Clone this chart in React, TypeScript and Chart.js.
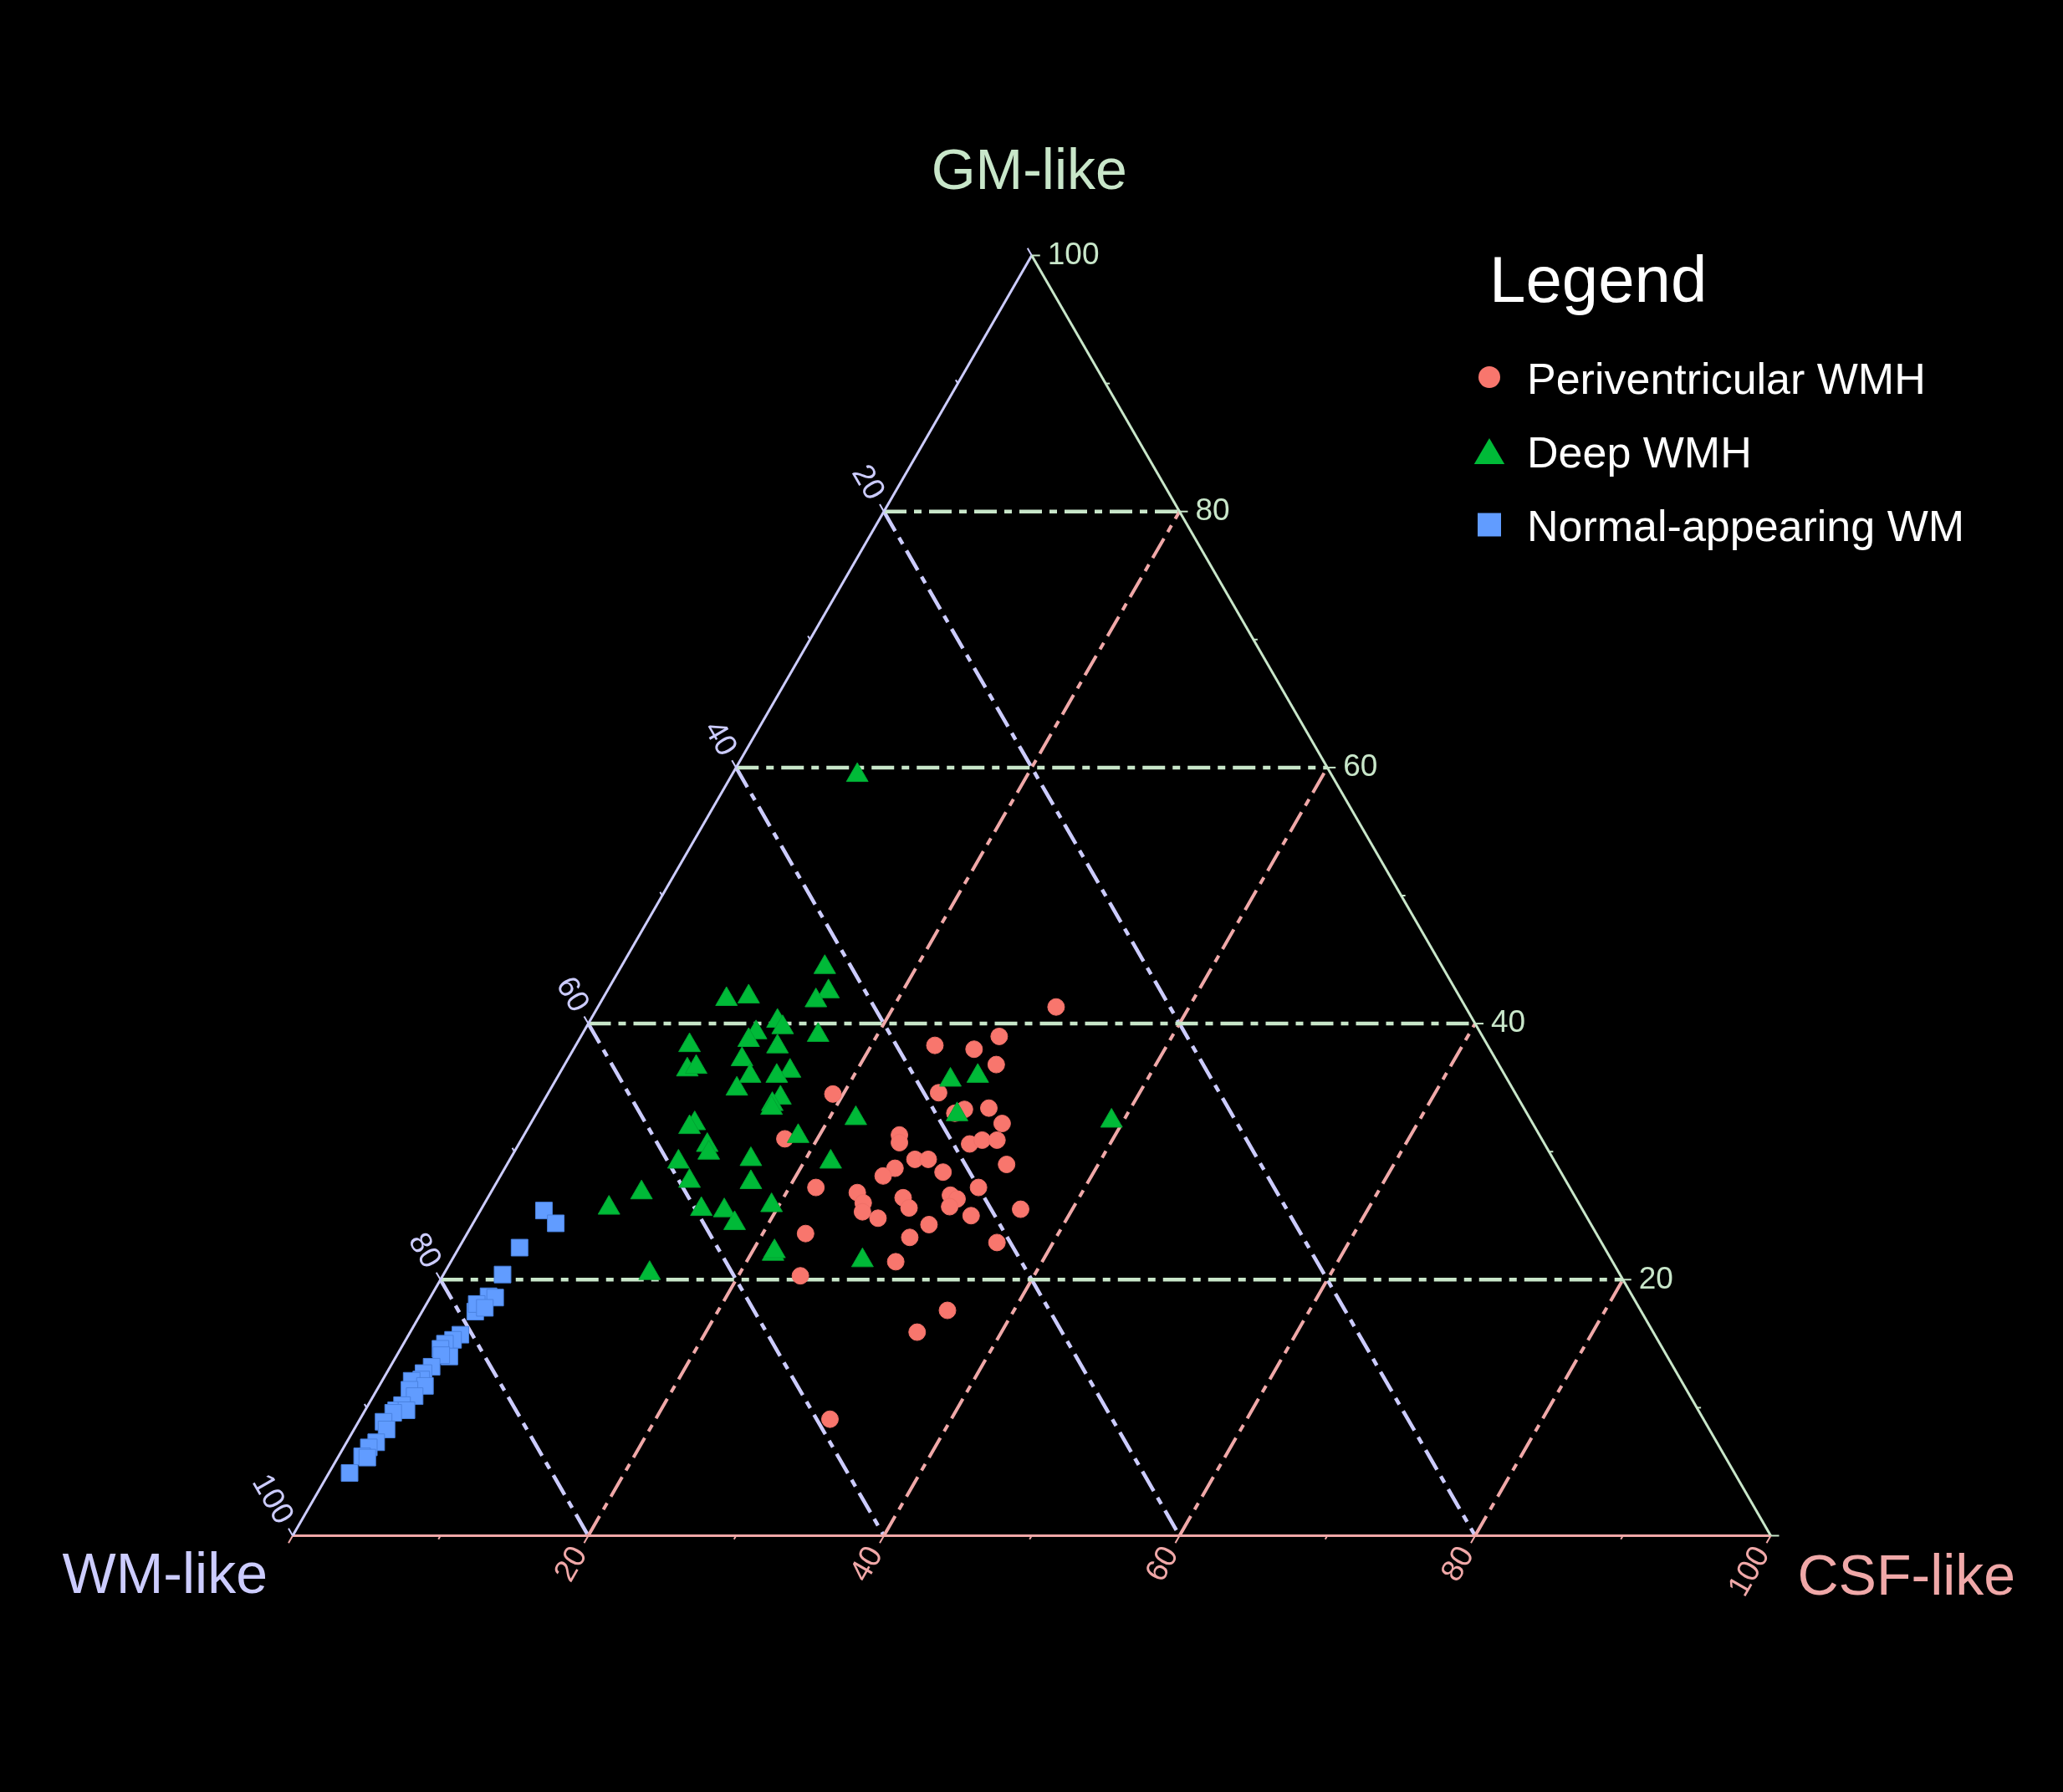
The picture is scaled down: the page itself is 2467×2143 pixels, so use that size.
import React, { useEffect, useRef } from 'react';
import { Chart, registerables } from 'chart.js';

Chart.register(...registerables);

const CANVAS_W = 2467;
const CANVAS_H = 2143;
const H3 = Math.sqrt(3) / 2;

const COLOR_GM = '#C8E6C9';
const COLOR_WM = '#CCCCFF';
const COLOR_CSF = '#F0A8A8';
const FONT = '"Liberation Sans", Arial, Helvetica, sans-serif';

const axisTitles = { top: 'GM-like', left: 'WM-like', right: 'CSF-like' };
const legendTitle = 'Legend';
const seriesNames = ['Periventricular WMH', 'Deep WMH', 'Normal-appearing WM'];
const seriesColors = ['#F8766D', '#00BA38', '#619CFF'];

const gridTicks = [20, 40, 60, 80];
const labelTicks = [20, 40, 60, 80, 100];
const allTicks = [0, 10, 20, 30, 40, 50, 60, 70, 80, 90, 100];

// Periventricular WMH (percent composition)
const pvGM = [41.3, 39.0, 38.3, 38.0, 36.8, 34.5, 34.6, 33.3, 33.0, 33.4, 32.2, 31.0, 31.3, 30.7, 30.6, 30.9, 30.9, 29.4, 29.4, 28.7, 28.1, 28.4, 29.0, 27.2, 26.8, 27.2, 26.4, 26.6, 26.3, 26.0, 25.6, 25.7, 25.5, 25.3, 24.8, 25.0, 24.3, 23.6, 23.3, 22.9, 21.4, 20.3, 17.6, 15.9, 9.1];
const pvCSF = [31.0, 28.3, 24.3, 27.1, 29.2, 19.3, 26.4, 28.8, 28.3, 30.4, 31.9, 17.8, 25.4, 25.7, 30.5, 31.2, 32.2, 27.4, 28.3, 26.4, 25.9, 29.8, 33.8, 21.8, 24.8, 32.8, 28.1, 31.2, 31.8, 25.6, 28.9, 31.6, 36.5, 25.9, 27.2, 33.4, 30.9, 22.9, 30.1, 36.2, 30.1, 24.2, 35.5, 34.3, 31.8];
const pvWM = [27.7, 32.7, 37.4, 34.9, 34.0, 46.2, 39.0, 37.9, 38.7, 36.2, 35.9, 51.2, 43.3, 43.6, 38.9, 37.9, 36.9, 43.2, 42.3, 44.9, 46.0, 41.8, 37.2, 51.0, 48.4, 40.0, 45.5, 42.2, 41.9, 48.4, 45.5, 42.7, 38.0, 48.8, 48.0, 41.6, 44.8, 53.5, 46.6, 40.9, 48.5, 55.5, 46.9, 49.8, 59.1];

// Deep WMH
const dpGM = [59.4, 44.4, 42.5, 41.8, 41.9, 42.1, 40.2, 39.7, 39.3, 38.7, 39.1, 38.3, 38.2, 37.2, 36.4, 36.6, 36.3, 35.9, 35.9, 34.9, 35.6, 35.9, 34.2, 33.7, 33.4, 32.9, 32.6, 32.4, 32.2, 31.9, 31.2, 30.5, 29.9, 29.4, 29.2, 29.2, 27.7, 27.6, 26.8, 25.6, 25.5, 25.4, 24.4, 25.8, 22.0, 22.2, 21.5, 20.5];
const dpCSF = [8.5, 13.8, 15.0, 14.5, 8.4, 9.8, 12.7, 13.3, 11.7, 11.5, 16.0, 7.7, 13.7, 11.8, 8.5, 9.0, 15.5, 14.8, 13.0, 12.6, 26.7, 28.4, 15.9, 15.6, 15.7, 28.5, 21.8, 39.2, 11.1, 10.9, 18.6, 12.8, 13.2, 16.3, 11.5, 21.8, 13.0, 17.2, 10.2, 8.6, 14.9, 16.5, 17.7, 19.5, 21.5, 21.5, 27.8, 13.9];
const dpWM = [32.1, 41.8, 42.5, 43.7, 49.7, 48.1, 47.1, 47.0, 49.0, 49.8, 44.9, 54.0, 48.1, 51.0, 55.1, 54.4, 48.2, 49.3, 51.1, 52.5, 37.7, 35.7, 49.9, 50.7, 50.9, 38.6, 45.6, 28.4, 56.7, 57.2, 50.2, 56.7, 56.9, 54.3, 59.3, 49.0, 59.3, 55.2, 63.0, 65.8, 59.6, 58.1, 57.9, 54.7, 56.5, 56.3, 50.7, 65.6];

// Normal-appearing WM
const nwGM = [25.4, 24.4, 22.5, 20.4, 18.7, 18.6, 17.5, 18.1, 17.8, 15.7, 15.3, 15.0, 14.6, 14.0, 14.1, 13.2, 12.7, 12.2, 12.1, 11.7, 11.4, 10.9, 10.2, 9.8, 9.8, 9.6, 8.9, 8.3, 7.3, 6.9, 6.2, 6.1, 4.9];
const nwCSF = [4.3, 5.6, 4.1, 4.0, 3.9, 4.4, 3.6, 3.4, 4.1, 3.5, 3.2, 2.8, 2.7, 3.6, 3.0, 2.8, 2.5, 2.6, 2.0, 3.1, 2.2, 2.8, 2.3, 2.1, 2.8, 2.0, 1.7, 2.2, 2.0, 1.7, 1.6, 2.0, 1.4];
const nwWM = [70.3, 70.0, 73.4, 75.6, 77.4, 77.0, 78.9, 78.5, 78.1, 80.8, 81.5, 82.2, 82.7, 82.4, 82.9, 84.0, 84.8, 85.2, 85.9, 85.2, 86.4, 86.3, 87.5, 88.1, 87.4, 88.4, 89.4, 89.5, 90.7, 91.4, 92.2, 91.9, 93.7];

function toXY(wm: number[], gm: number[], csf: number[]) {
  return gm.map((g, i) => {
    const tot = wm[i] + g + csf[i];
    const G = (g / tot) * 100;
    const C = (csf[i] / tot) * 100;
    return { x: C + G / 2, y: G * H3 };
  });
}

function P(chart: any, gm: number, csf: number): [number, number] {
  return [chart.scales.x.getPixelForValue(csf + gm / 2), chart.scales.y.getPixelForValue(gm * H3)];
}

function line(ctx: CanvasRenderingContext2D, a: [number, number], b: [number, number]) {
  ctx.beginPath();
  ctx.moveTo(a[0], a[1]);
  ctx.lineTo(b[0], b[1]);
  ctx.stroke();
}

const ternaryPlugin = {
  id: 'ternaryFrame',
  beforeDraw(chart: any) {
    const ctx = chart.ctx;
    ctx.save();
    ctx.fillStyle = '#000000';
    ctx.fillRect(0, 0, chart.width, chart.height);
    ctx.restore();
  },
  beforeDatasetsDraw(chart: any) {
    const ctx: CanvasRenderingContext2D = chart.ctx;
    ctx.save();
    ctx.lineCap = 'butt';
    // grid lines
    ctx.lineWidth = 4.5;
    ctx.setLineDash([27, 9, 9, 9]);
    for (const v of gridTicks) {
      ctx.strokeStyle = COLOR_WM;
      line(ctx, P(chart, 100 - v, 0), P(chart, 0, 100 - v));
    }
    ctx.lineWidth = 4;
    for (const v of gridTicks) {
      ctx.strokeStyle = COLOR_CSF;
      line(ctx, P(chart, 0, v), P(chart, 100 - v, v));
    }
    ctx.lineWidth = 4.5;
    for (const v of gridTicks) {
      ctx.strokeStyle = COLOR_GM;
      line(ctx, P(chart, v, 0), P(chart, v, 100 - v));
    }
    ctx.setLineDash([]);
    // triangle edges
    ctx.lineWidth = 3;
    ctx.strokeStyle = COLOR_CSF;
    line(ctx, P(chart, 0, 0), P(chart, 0, 100));
    ctx.strokeStyle = COLOR_WM;
    line(ctx, P(chart, 0, 0), P(chart, 100, 0));
    ctx.strokeStyle = COLOR_GM;
    line(ctx, P(chart, 100, 0), P(chart, 0, 100));
    // ticks
    ctx.lineWidth = 2;
    for (const t of allTicks) {
      const len = t % 20 === 0 ? 10 : 5;
      let p = P(chart, t, 100 - t);
      ctx.strokeStyle = COLOR_GM;
      line(ctx, p, [p[0] + len, p[1]]);
      p = P(chart, 100 - t, 0);
      ctx.strokeStyle = COLOR_WM;
      line(ctx, p, [p[0] - 0.5 * len, p[1] - H3 * len]);
      p = P(chart, 0, t);
      ctx.strokeStyle = COLOR_CSF;
      line(ctx, p, [p[0] - 0.5 * len, p[1] + H3 * len]);
    }
    ctx.restore();
  },
  afterDraw(chart: any) {
    const ctx: CanvasRenderingContext2D = chart.ctx;
    ctx.save();
    // tick labels
    ctx.font = `37px ${FONT}`;
    ctx.textBaseline = 'middle';
    const off = 19;
    for (const t of labelTicks) {
      const s = String(t);
      // GM (right edge)
      let p = P(chart, t, 100 - t);
      ctx.fillStyle = COLOR_GM;
      ctx.textAlign = 'left';
      ctx.fillText(s, p[0] + off, p[1]);
      // WM (left edge)
      p = P(chart, 100 - t, 0);
      ctx.save();
      ctx.translate(p[0] - 0.5 * off, p[1] - H3 * off);
      ctx.rotate(Math.PI / 3);
      ctx.fillStyle = COLOR_WM;
      ctx.textAlign = 'right';
      ctx.fillText(s, 0, 0);
      ctx.restore();
      // CSF (bottom edge)
      p = P(chart, 0, t);
      ctx.save();
      ctx.translate(p[0] - 0.5 * off, p[1] + H3 * off);
      ctx.rotate(-Math.PI / 3);
      ctx.fillStyle = COLOR_CSF;
      ctx.textAlign = 'right';
      ctx.fillText(s, 0, 0);
      ctx.restore();
    }
    // axis titles
    ctx.font = `68px ${FONT}`;
    ctx.textBaseline = 'alphabetic';
    let p = P(chart, 100, 0);
    ctx.fillStyle = COLOR_GM;
    ctx.textAlign = 'center';
    ctx.fillText(axisTitles.top, p[0] - 3, p[1] - 79.5);
    p = P(chart, 0, 0);
    ctx.fillStyle = COLOR_WM;
    ctx.textAlign = 'right';
    ctx.fillText(axisTitles.left, p[0] - 30, p[1] + 68.5);
    p = P(chart, 0, 100);
    ctx.fillStyle = COLOR_CSF;
    ctx.textAlign = 'left';
    ctx.fillText(axisTitles.right, p[0] + 32, p[1] + 70.5);

    // legend
    ctx.fillStyle = '#FFFFFF';
    ctx.textAlign = 'left';
    ctx.font = `78px ${FONT}`;
    ctx.fillText(legendTitle, 1781, 361);
    ctx.font = `52px ${FONT}`;
    const mx = 1781;
    const rowY = [451, 539.5, 627.5];
    for (let i = 0; i < seriesNames.length; i++) {
      const cy = rowY[i];
      ctx.fillStyle = seriesColors[i];
      ctx.beginPath();
      if (i === 0) {
        ctx.arc(mx, cy, 13, 0, Math.PI * 2);
      } else if (i === 1) {
        ctx.moveTo(mx, cy - 15.5);
        ctx.lineTo(mx + 18.2, cy + 15.5);
        ctx.lineTo(mx - 18.2, cy + 15.5);
        ctx.closePath();
      } else {
        ctx.rect(mx - 14, cy - 14, 28, 28);
      }
      ctx.fill();
      ctx.fillStyle = '#FFFFFF';
      ctx.fillText(seriesNames[i], 1826, cy + 19.5);
    }
    ctx.restore();
  },
};

export default function App() {
  const ref = useRef<HTMLCanvasElement | null>(null);
  useEffect(() => {
    document.body.style.background = '#000000';
    const canvas = ref.current;
    if (!canvas) return;
    const chart = new Chart(canvas, {
      type: 'scatter',
      data: {
        datasets: [
          {
            label: seriesNames[1],
            data: toXY(dpWM, dpGM, dpCSF),
            pointStyle: 'triangle',
            pointRadius: 15,
            backgroundColor: seriesColors[1],
            borderColor: '#00A532',
            borderWidth: 1,
            order: 0,
          },
          {
            label: seriesNames[0],
            data: toXY(pvWM, pvGM, pvCSF),
            pointStyle: 'circle',
            pointRadius: 10,
            backgroundColor: seriesColors[0],
            borderColor: '#F07068',
            borderWidth: 1,
            order: 1,
          },
          {
            label: seriesNames[2],
            data: toXY(nwWM, nwGM, nwCSF),
            pointStyle: 'rect',
            pointRadius: 14.1,
            backgroundColor: seriesColors[2],
            borderColor: '#4A82E0',
            borderWidth: 1,
            order: 2,
          },
        ],
      },
      options: {
        responsive: false,
        animation: false,
        devicePixelRatio: 1,
        events: [],
        layout: {
          autoPadding: false,
          padding: { left: 350, right: CANVAS_W - 2117.5, top: 305.5, bottom: CANVAS_H - 1836.5 },
        },
        scales: {
          x: { type: 'linear', min: 0, max: 100, display: false },
          y: { type: 'linear', min: 0, max: 100 * H3, display: false },
        },
        plugins: {
          legend: { display: false },
          tooltip: { enabled: false },
        },
      } as any,
      plugins: [ternaryPlugin as any],
    });
    return () => chart.destroy();
  }, []);
  return (
    <canvas
      ref={ref}
      width={CANVAS_W}
      height={CANVAS_H}
      style={{ position: 'fixed', left: 0, top: 0, width: CANVAS_W + 'px', height: CANVAS_H + 'px', display: 'block' }}
    />
  );
}
